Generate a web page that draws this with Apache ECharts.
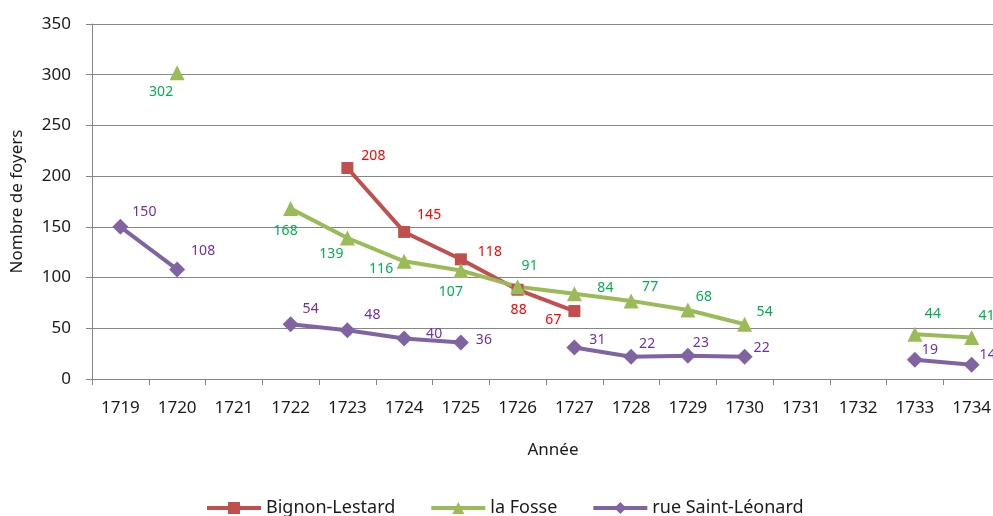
<!DOCTYPE html>
<html>
<head>
<meta charset="utf-8">
<script src="https://cdn.jsdelivr.net/npm/echarts@6/dist/echarts.min.js"></script>
<style>
  html, body { margin: 0; padding: 0; background: #fff; }
  #chart { width: 993px; height: 516px; }
</style>
</head>
<body>
<div id="chart"></div>
<script>
// données
const years = ['1719', '1720', '1721', '1722', '1723', '1724', '1725', '1726',
  '1727', '1728', '1729', '1730', '1731', '1732', '1733', '1734'];
const bignonLestard = [null, null, null, null, 208, 145, 118, 88, 67, null, null, null, null, null, null, null];
const laFosse = [null, 302, null, 168, 139, 116, 107, 91, 84, 77, 68, 54, null, null, 44, 41];
const rueSaintLeonard = [150, 108, null, 54, 48, 40, 36, null, 31, 22, 23, 22, null, null, 19, 14];

// décalage des étiquettes (px) par point
const offRouge = [null, null, null, null, [26, -12], [25, -17], [29, -7], [1, 20], [-21, 9]];
const offVert = [null, [-16, 19], null, [-5, 22], [-16, 16], [-23, 8], [-10, 22], [12, -21],
  [31, -6], [19, -14], [16, -13], [20, -12], null, null, [18, -20], [15, -21]];
const offViolet = [[24, -15], [26, -18], null, [20, -15], [25, -15], [30, -4], [23, -2], null,
  [23, -8], [16, -13], [13, -13], [17, -9], null, null, [15, -10], [16, -10]];

const font = 'Noto Sans';

function build(values, offsets) {
  return values.map((v, i) => {
    if (v == null) return null;
    const o = offsets[i] || [18, -12];
    return { value: v, label: { offset: o } };
  });
}

function serie(name, values, offsets, color, labelColor, symbol, size) {
  return {
    name: name,
    type: 'line',
    data: build(values, offsets),
    symbol: symbol,
    symbolSize: size,
    showAllSymbol: true,
    connectNulls: false,
    lineStyle: { color: color, width: 4 },
    itemStyle: { color: color },
    label: {
      show: true,
      position: 'inside',
      color: labelColor,
      fontFamily: font,
      fontSize: 14
    },
    emphasis: { disabled: true },
    z: 3
  };
}

const chart = echarts.init(document.getElementById('chart'));
chart.setOption({
  animation: false,
  backgroundColor: '#ffffff',
  grid: { left: 92, top: 24, height: 355, width: 908, outerBoundsMode: 'none', containLabel: false },
  legend: {
    left: 200,
    top: 494,
    itemWidth: 54,
    itemHeight: 15,
    itemGap: 34,
    lineStyle: { width: 4 },
    textStyle: { fontFamily: font, fontSize: 18, color: '#1a1a1a' },
    data: ['Bignon-Lestard', 'la Fosse', 'rue Saint-Léonard']
  },
  xAxis: {
    type: 'category',
    data: years,
    boundaryGap: true,
    name: 'Année',
    nameLocation: 'middle',
    nameGap: 63,
    nameTextStyle: { fontFamily: font, fontSize: 17, color: '#1a1a1a', padding: [0, 0, 0, 14] },
    axisLine: { lineStyle: { color: '#868686', width: 1 } },
    axisTick: { show: true, length: 6, lineStyle: { color: '#868686' } },
    axisLabel: { margin: 21, fontFamily: font, fontSize: 17, color: '#1a1a1a', interval: 0 },
    splitLine: { show: false }
  },
  yAxis: {
    type: 'value',
    min: 0,
    max: 350,
    interval: 50,
    name: 'Nombre de foyers',
    nameLocation: 'middle',
    nameGap: 66,
    nameTextStyle: { fontFamily: font, fontSize: 17, color: '#1a1a1a' },
    axisLine: { show: true, lineStyle: { color: '#868686', width: 1 } },
    axisTick: { show: true, length: 6, lineStyle: { color: '#868686' } },
    axisLabel: { margin: 21, fontFamily: font, fontSize: 17, color: '#1a1a1a' },
    splitLine: { lineStyle: { color: '#868686', width: 1 } }
  },
  series: [
    serie('Bignon-Lestard', bignonLestard, offRouge, '#C0504D', '#FF0000', 'rect', 12),
    serie('la Fosse', laFosse, offVert, '#9BBB59', '#00B050', 'triangle', 15),
    serie('rue Saint-Léonard', rueSaintLeonard, offViolet, '#8064A2', '#7030A0', 'diamond', 16)
  ]
});
</script>
</body>
</html>
